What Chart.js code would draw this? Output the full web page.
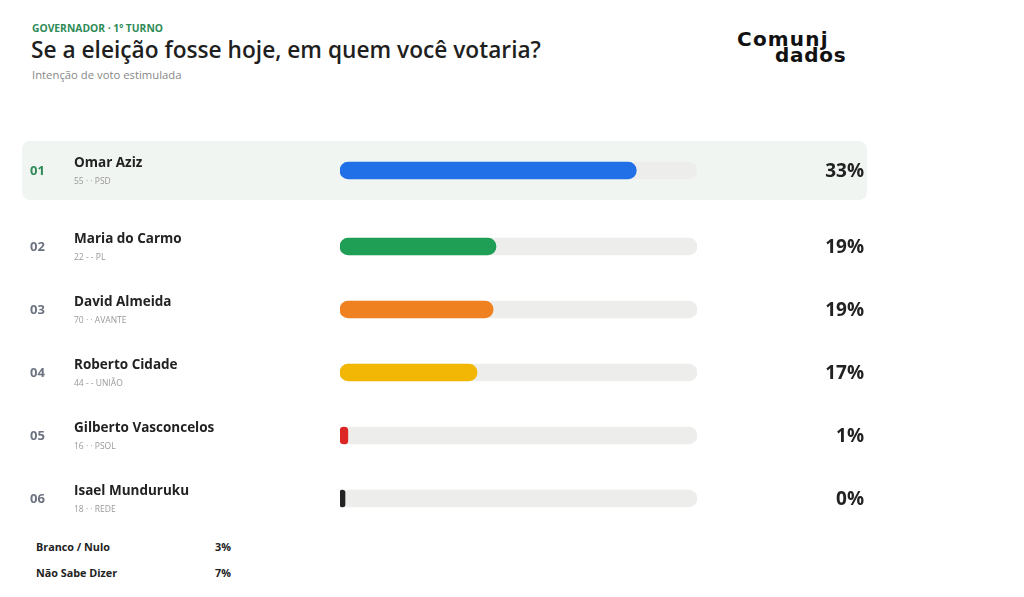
<!DOCTYPE html>
<html lang="pt-BR">
<head>
<meta charset="utf-8">
<title>Governador - 1º turno</title>
<script src="https://cdn.jsdelivr.net/npm/chart.js@4.4.1/dist/chart.umd.min.js"></script>
<style>
  html, body { margin: 0; padding: 0; background: #fff; }
  body { width: 1024px; height: 597px; position: relative; overflow: hidden; font-family: 'Open Sans', 'Noto Sans', sans-serif; color: #222; }
  .kicker { position: absolute; left: 32px; top: 21px; font-size: 10.3px; font-weight: 700; color: #2e8b57; }
  .titulo { position: absolute; left: 31px; top: 34px; font-size: 22.7px; font-weight: 600; color: #1f1f1f; white-space: nowrap; }
  .sub { position: absolute; left: 32px; top: 67px; font-size: 11.3px; color: #888; }
  .logo { position: absolute; left: 737px; top: 29px; font-family: 'DejaVu Sans', sans-serif; font-weight: 700; font-size: 20px; letter-spacing: 1.2px; color: #111; line-height: 1; }
  .logo .l2 { position: absolute; left: 38px; top: 16px; letter-spacing: 0.7px; }
  .destaque { position: absolute; left: 22px; top: 141px; width: 845px; height: 59px; background: #f1f5f2; border-radius: 8px; }
  canvas { position: absolute; left: 0; }
  #c1 { top: 141px; }
  #c2 { top: 215px; }
  .outros { position: absolute; left: 36px; font-size: 10.8px; font-weight: 700; color: #222; }
  .outros span { position: absolute; left: 177px; width: 18px; text-align: right; }
</style>
</head>
<body>
<div class="kicker">GOVERNADOR · 1º TURNO</div>
<div class="titulo">Se a eleição fosse hoje, em quem você votaria?</div>
<div class="sub">Intenção de voto estimulada</div>
<div class="logo">Comunj<div class="l2">dados</div></div>
<div class="destaque"></div>
<canvas id="c1" width="1024" height="59"></canvas>
<canvas id="c2" width="1024" height="315"></canvas>
<div id="outros"></div>
<script>
// dados da pesquisa
const candidatos = ['Omar Aziz', 'Maria do Carmo', 'David Almeida', 'Roberto Cidade', 'Gilberto Vasconcelos', 'Isael Munduruku'];
const numeros = ['55', '22', '70', '44', '16', '18'];
const separadores = ['· ·', '- -', '· ·', '- -', '· ·', '· ·'];
const partidos = ['PSD', 'PL', 'AVANTE', 'UNIÃO', 'PSOL', 'REDE'];
const percentuais = [33, 19, 19, 17, 1, 0];
// comprimento de cada barra em % da trilha
const barras = [83, 43.7, 42.9, 38.4, 2.2, 1.4];
const cores = ['#2270e8', '#1f9e55', '#f08121', '#f2b705', '#dc2626', '#222'];
const outros = ['Branco / Nulo', 'Não Sabe Dizer'];
const outrosValores = [3, 7];

// rotulos desenhados ao lado das barras
const rotulos = {
    id: 'rotulos',
    afterDraw(chart) {
        const ctx = chart.ctx;
        const y = chart.scales.y;
        const base = chart.options.plugins.rotulos.inicio;
        ctx.save();
        chart.data.labels.forEach((nome, i) => {
            const k = base + i;
            const cy = y.getPixelForValue(i);
            ctx.textBaseline = 'middle';
            ctx.textAlign = 'left';
            ctx.font = '700 13px "Open Sans"';
            ctx.fillStyle = k === 0 ? '#2e8b57' : '#6b7280';
            ctx.fillText(String(k + 1).padStart(2, '0'), 30, cy + 1);
            ctx.font = '700 13.5px "Open Sans"';
            ctx.fillStyle = '#222';
            ctx.fillText(nome, 74, cy - 7);
            ctx.font = '400 8.5px "Open Sans"';
            ctx.fillStyle = '#999';
            ctx.fillText(numeros[k] + ' ' + separadores[k] + ' ' + partidos[k], 74, cy + 11);
            ctx.textAlign = 'right';
            ctx.font = '700 19px "Open Sans"';
            ctx.fillStyle = '#222';
            ctx.fillText(percentuais[k] + '%', 864, cy + 1);
        });
        ctx.restore();
    }
};

function grafico(id, inicio, fim) {
    return new Chart(document.getElementById(id), {
        type: 'bar',
        data: {
            labels: candidatos.slice(inicio, fim),
            datasets: [{
                data: barras.slice(inicio, fim),
                backgroundColor: cores.slice(inicio, fim),
                borderRadius: 9,
                borderSkipped: false,
                barThickness: 17,
                grouped: false
            }, {
                data: candidatos.slice(inicio, fim).map(() => 100),
                backgroundColor: '#edeeec',
                borderRadius: 9,
                borderSkipped: false,
                barThickness: 17,
                grouped: false
            }]
        },
        options: {
            indexAxis: 'y',
            responsive: false,
            animation: false,
            layout: { padding: { left: 340, right: 327, top: 0, bottom: 0 } },
            plugins: {
                legend: { display: false },
                tooltip: { enabled: false },
                rotulos: { inicio: inicio }
            },
            scales: {
                x: { display: false, min: 0, max: 100 },
                y: { display: false }
            }
        },
        plugins: [rotulos]
    });
}

grafico('c1', 0, 1);
grafico('c2', 1, 6);

const box = document.getElementById('outros');
outros.forEach((t, i) => {
    const d = document.createElement('div');
    d.className = 'outros';
    d.style.top = (539 + i * 26) + 'px';
    d.innerHTML = t + '<span>' + outrosValores[i] + '%</span>';
    box.appendChild(d);
});
</script>
</body>
</html>
